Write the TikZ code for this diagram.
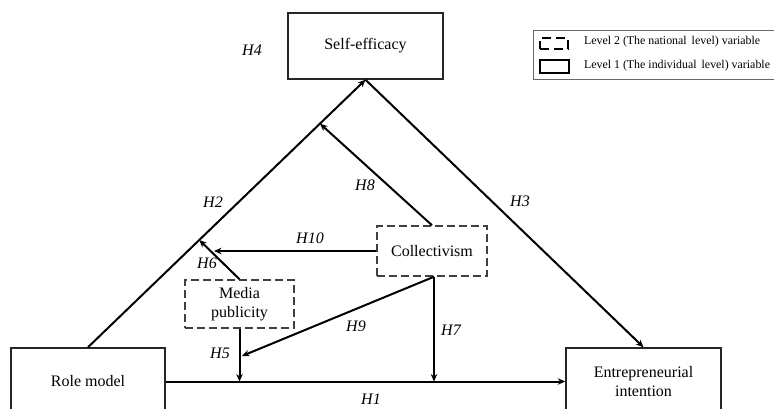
\documentclass[tikz,border=0pt]{standalone}
\usepackage{fontspec}
\setmainfont{Liberation Serif}
\usetikzlibrary{arrows.meta,calc}
\begin{document}
\begin{tikzpicture}[x=1pt,y=-1pt,
  line width=2pt,
  solidbox/.style={draw=black!85,line width=1.5pt,rectangle,inner sep=0pt,align=center,font=\fontsize{16}{19}\selectfont},
  dashbox/.style={draw=black!75,line width=1.5pt,dash pattern=on 8pt off 4pt,rectangle,inner sep=0pt,align=center,font=\fontsize{16}{19}\selectfont},
  arr/.style={-{Stealth[length=7.5pt,width=6.5pt]}},
  hlab/.style={font=\fontsize{16}{19}\selectfont\itshape,inner sep=0pt},
  legtext/.style={font=\fontsize{11.9}{13}\selectfont,anchor=west,inner sep=0pt}]
\clip (0,0) rectangle (774,409);
\fill[white] (0,0) rectangle (774,409);
% nodes
\node[solidbox,minimum width=155pt,minimum height=66pt] (SE) at (365.5,46) {Self-efficacy};
\node[solidbox,minimum width=154pt,minimum height=67pt] (RM) at (88,381.5) {Role model};
\node[solidbox,minimum width=155pt,minimum height=67pt] (EI) at (643.5,381.5) {Entrepreneurial\\intention};
\node[dashbox,minimum width=110pt,minimum height=50pt] (COL) at (432,251) {Collectivism};
\node[dashbox,minimum width=109pt,minimum height=48pt] (MP) at (239.5,304) {Media\\publicity};
% legend
\node[draw=black!60,line width=0.8pt,minimum width=250pt,minimum height=49pt,inner sep=0pt] (LEG) at (658,54.5) {};
\node[draw=black,line width=1.2pt,dash pattern=on 9pt off 5pt,minimum width=28pt,minimum height=11pt,inner sep=0pt] (LD) at (554,43.5) {};
\node[draw=black,line width=1.2pt,minimum width=29pt,minimum height=13pt,inner sep=0pt] (LS) at (554.5,66.5) {};
\node[legtext] (LT1) at (583,42) {Level 2 (The national\, level) variable};
\node[legtext] (LT2) at (583,66) {Level 1 (The individual\, level) variable};
% helper coordinates
\coordinate (h8end) at ($(RM.north)!0.836!(SE.south)$);
\coordinate (h6end) at ($(RM.north)!0.401!(SE.south)$);
\coordinate (h10end) at (214,251);
\coordinate (colb) at ([xshift=2pt]COL.south);
\coordinate (h5end) at (MP.south |- RM.east);
\coordinate (h7end) at (colb |- RM.east);
\coordinate (h9end) at (242,356);
% connectors
\draw[arr] (RM.east) -- (EI.west);
\draw[arr] (RM.north) -- (SE.south);
\draw[arr] (SE.south) -- (EI.north);
\draw[arr] (COL.north) -- (h8end);
\draw[arr] (MP.north) -- (h6end);
\draw[arr] (COL.west) -- (h10end);
\draw[arr] (MP.south) -- (h5end);
\draw[arr] (colb) -- (h7end);
\draw[arr] (colb) -- (h9end);
% labels
\node[hlab] (L4) at (252,50) {H4};
\node[hlab] (L2) at (213,202) {H2};
\node[hlab] (L3) at (520,201) {H3};
\node[hlab] (L8) at (365,185) {H8};
\node[hlab] (L10) at (310,238) {H10};
\node[hlab] (L6) at (207,263) {H6};
\node[hlab] (L9) at (356,326) {H9};
\node[hlab] (L7) at (451,330) {H7};
\node[hlab] (L5) at (220,353) {H5};
\node[hlab] (L1) at (371,399) {H1};
\end{tikzpicture}
\end{document}
